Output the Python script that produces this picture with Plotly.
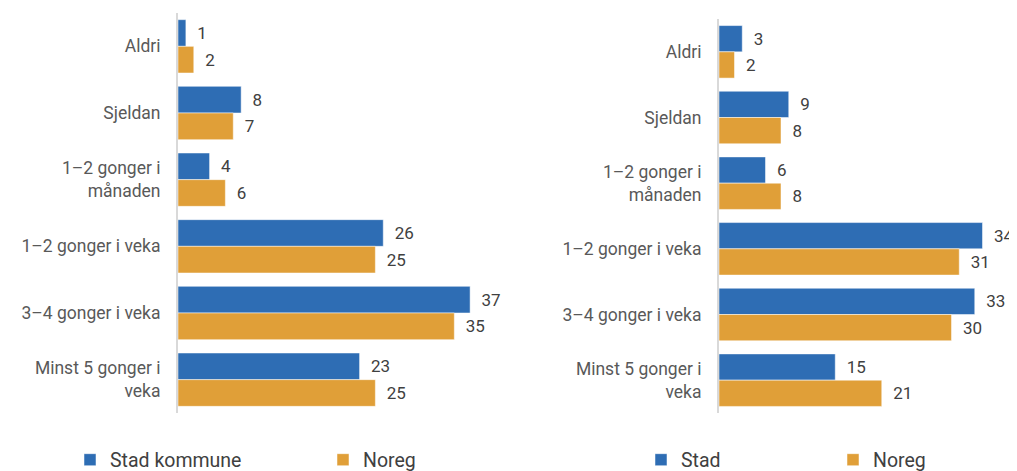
import plotly.graph_objects as go

# Data
kategoriar = ["Aldri", "Sjeldan", "1–2 gonger i<br>månaden", "1–2 gonger i veka",
              "3–4 gonger i veka", "Minst 5 gonger i<br>veka"]

stad_kommune = [1, 8, 4, 26, 37, 23]
noreg_venstre = [2, 7, 6, 25, 35, 25]

stad = [3, 9, 6, 34, 33, 15]
noreg_hogre = [2, 8, 8, 31, 30, 21]

BLA = "#2E6DB4"
ORANSJE = "#E09F38"
TEKST = "#404040"
PAD = "\u00a0\u00a0"

fig = go.Figure()

def legg_til(x, namn, farge, xa, ya, legend):
    fig.add_trace(go.Bar(
        y=kategoriar, x=x, name=namn, orientation="h",
        marker=dict(color=farge, line=dict(color="white", width=0.5)),
        text=[PAD + str(v) for v in x], textposition="outside",
        textfont=dict(size=17, color=TEKST), cliponaxis=False,
        xaxis=xa, yaxis=ya, legend=legend,
    ))

legg_til(stad_kommune, "Stad kommune", BLA, "x", "y", "legend")
legg_til(noreg_venstre, "Noreg", ORANSJE, "x", "y", "legend")
legg_til(stad, "Stad", BLA, "x2", "y2", "legend2")
legg_til(noreg_hogre, "Noreg", ORANSJE, "x2", "y2", "legend2")

# the page body has an 8 px margin, so figure pixels = page pixels - 8
OFF = 8
W, H = 1017 - OFF, 471 - OFF


def px(x):
    return (x - OFF) / W


def py(y):
    return (H - (y - OFF)) / H


yakse = dict(autorange="reversed", showline=True, linecolor="#d9d9d9", linewidth=2,
             ticks="", showgrid=False, tickfont=dict(size=17.5, color="#595959"),
             ticklabelstandoff=12, automargin=False)
xakse = dict(showticklabels=False, showgrid=False, zeroline=False, showline=False,
             automargin=False)

fig.update_layout(
    width=W, height=H,
    margin=dict(l=0, r=0, t=0, b=0, autoexpand=False),
    paper_bgcolor="white", plot_bgcolor="white",
    font=dict(family="Roboto", color=TEKST),
    barmode="group", bargap=0.2, bargroupgap=0,
    xaxis=dict(xakse, domain=[px(178), px(508)], range=[0, 41.8]),
    yaxis=dict(yakse, domain=[py(413), py(13)], anchor="x"),
    xaxis2=dict(xakse, domain=[px(719), 1.0], range=[0, 38.45]),
    yaxis2=dict(yakse, domain=[py(413), py(19)], anchor="x2"),
    legend=dict(orientation="h", x=px(70), xanchor="left", y=py(460),
                yanchor="middle", font=dict(size=19.5, color=TEKST),
                entrywidth=208, traceorder="normal"),
    legend2=dict(orientation="h", x=px(641), xanchor="left", y=py(460),
                 yanchor="middle", font=dict(size=19.5, color=TEKST),
                 entrywidth=147, traceorder="normal"),
    showlegend=True,
)

fig.write_html("out.html")
